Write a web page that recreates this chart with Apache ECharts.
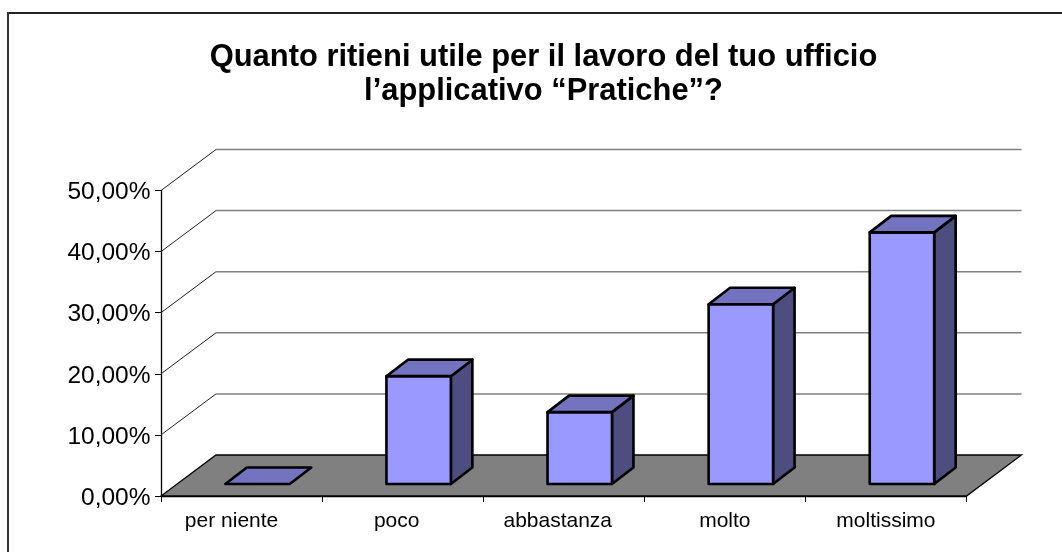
<!DOCTYPE html>
<html><head><meta charset="utf-8">
<style>html,body{margin:0;padding:0;background:#fff}#c{width:1062px;height:552px}</style>
<script src="https://cdn.jsdelivr.net/npm/echarts@6/dist/echarts.min.js"></script>
</head><body><div id="c"></div>
<script>
const categories = ['per niente', 'poco', 'abbastanza', 'molto', 'moltissimo'];
const values = [0, 17.65, 11.76, 29.41, 41.18];
const yTicks = [0, 10, 20, 30, 40, 50];
const titleText = 'Quanto ritieni utile per il lavoro del tuo ufficio\nl\u2019applicativo \u201cPratiche\u201d?';

const labelShift = [20, 12, 12, 0, 0]; // right padding that nudges each category label left
const DX = 55, DY = 41;          // wall depth in px
const BX0 = 16, BY0 = 12;        // bar offset into the depth
const BDX = 21.5, BDY = 16.5;    // bar depth
const FONT = '"Liberation Sans", Arial, sans-serif';
const chart = echarts.init(document.getElementById('c'), null, {renderer: 'canvas'});

function wallItem(params, api) {
  const p = api.coord([0, api.value(0)]);
  const cs = params.coordSys;
  const x0 = cs.x, x1 = cs.x + cs.width, y = p[1];
  return {type: 'group', children: [
    {type: 'line', shape: {x1: x0 + DX, y1: y - DY, x2: x1 + DX, y2: y - DY}, style: {stroke: '#808080', lineWidth: 1.5}},
    {type: 'line', shape: {x1: x0, y1: y, x2: x0 + DX, y2: y - DY}, style: {stroke: '#222', lineWidth: 1}}
  ]};
}
function floorItem(params, api) {
  const cs = params.coordSys;
  const y = cs.y + cs.height, a = cs.x, b = cs.x + cs.width;
  return {type: 'polygon', shape: {points: [[a, y], [b, y], [b + DX, y - DY], [a + DX, y - DY]]},
    style: {fill: '#808080', stroke: '#000', lineWidth: 1.3}};
}
function barItem(params, api) {
  const idx = api.value(0), v = api.value(1);
  const top = api.coord([idx, v]), base = api.coord([idx, 0]);
  const w = api.size([1, 0])[0] * 0.4;
  const l = top[0] - w / 2 + BX0, r = l + w;
  const yt = top[1] - BY0, yb = base[1] - BY0;
  const st = (fill) => ({fill, stroke: '#000', lineWidth: 2.6, lineJoin: 'round'});
  const children = [];
  if (yb - yt > 0.5) {
    children.push({type: 'polygon', shape: {points: [[r, yt], [r + BDX, yt - BDY], [r + BDX, yb - BDY], [r, yb]]}, style: st('#4D4D80')});
    children.push({type: 'rect', shape: {x: l, y: yt, width: w, height: yb - yt}, style: st('#9999FF')});
  }
  children.push({type: 'polygon', shape: {points: [[l, yt], [r, yt], [r + BDX, yt - BDY], [l + BDX, yt - BDY]]}, style: st('#7373BF')});
  return {type: 'group', children};
}
const rich = {};
categories.forEach((c, i) => {
  rich['c' + i] = {fontSize: 21, color: '#000', fontFamily: FONT, padding: [0, labelShift[i], 0, 0]};
});

chart.setOption({
  animation: false,
  backgroundColor: '#fff',
  title: {text: titleText, left: 538.5, top: 36, textAlign: 'center',
    textStyle: {fontFamily: FONT, fontSize: 30.9, fontWeight: 'bold', color: '#000', lineHeight: 33.5}},
  graphic: [
    {type: 'line', shape: {x1: 8, y1: 13, x2: 1062, y2: 13}, style: {stroke: '#222', lineWidth: 2}, silent: true},
    {type: 'line', shape: {x1: 8, y1: 12, x2: 8, y2: 552}, style: {stroke: '#333', lineWidth: 2}, silent: true}
  ],
  grid: {left: 161, right: 95.5, top: 190.5, bottom: 56},
  xAxis: {type: 'category', data: categories, boundaryGap: true,
    axisLine: {lineStyle: {color: '#000', width: 1.3}},
    axisTick: {show: true, alignWithLabel: false, length: 6, lineStyle: {color: '#000'}},
    axisLabel: {margin: 15, fontSize: 21, color: '#000', fontFamily: FONT, interval: 0,
      formatter: (v, i) => '{c' + i + '|' + v + '}', rich},
    splitLine: {show: false}},
  yAxis: {type: 'value', min: 0, max: 50, interval: 10,
    axisLine: {show: true, lineStyle: {color: '#000', width: 1.3}},
    axisTick: {show: true, length: 6, lineStyle: {color: '#000'}},
    axisLabel: {margin: 10.5, color: '#000', fontFamily: FONT,
      formatter: v => '{y|' + v.toFixed(2).replace('.', ',') + '%}',
      rich: {y: {fontSize: 24.5, color: '#000', fontFamily: FONT, padding: [4, 0, 0, 0]}}},
    splitLine: {show: false}},
  series: [
    {type: 'custom', z: 1, coordinateSystem: 'cartesian2d', renderItem: wallItem, data: yTicks.slice(1).map(v => [v]), encode: {y: 0}, silent: true},
    {type: 'custom', z: 2, coordinateSystem: 'cartesian2d', renderItem: floorItem, data: [[0, 0]], silent: true},
    {type: 'custom', z: 3, coordinateSystem: 'cartesian2d', renderItem: barItem, data: values.map((v, i) => [i, v]), encode: {x: 0, y: 1}, silent: true}
  ]
});
</script></body></html>
